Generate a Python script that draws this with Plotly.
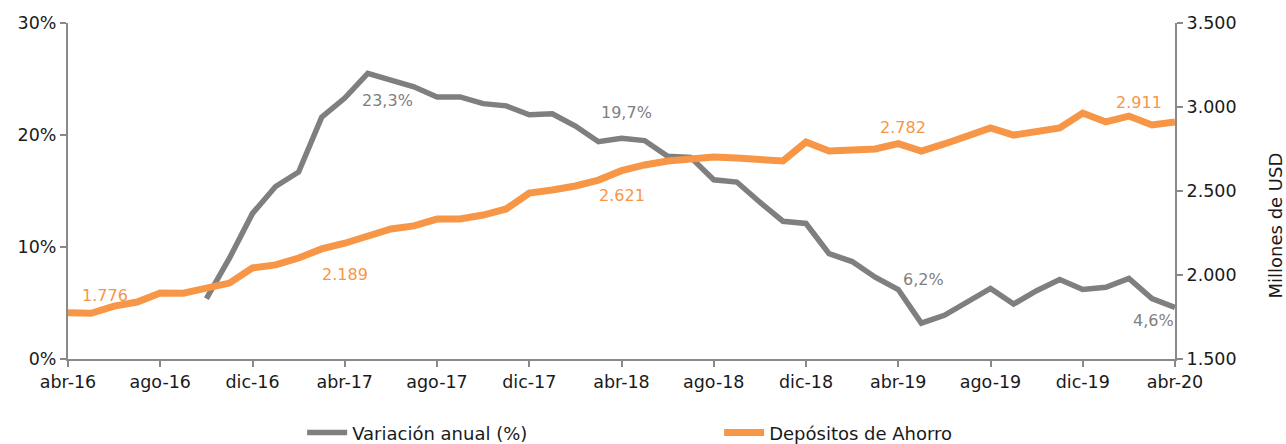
import plotly.graph_objects as go

months = ["abr-16","may-16","jun-16","jul-16","ago-16","sep-16","oct-16","nov-16","dic-16",
          "ene-17","feb-17","mar-17","abr-17","may-17","jun-17","jul-17","ago-17","sep-17","oct-17","nov-17","dic-17",
          "ene-18","feb-18","mar-18","abr-18","may-18","jun-18","jul-18","ago-18","sep-18","oct-18","nov-18","dic-18",
          "ene-19","feb-19","mar-19","abr-19","may-19","jun-19","jul-19","ago-19","sep-19","oct-19","nov-19","dic-19",
          "ene-20","feb-20","mar-20","abr-20"]

depositos = [1776,1772,1815,1839,1893,1892,1922,1952,2042,
             2060,2101,2155,2189,2232,2274,2292,2333,2333,2357,2393,2488,
             2506,2530,2565,2621,2655,2679,2690,2702,2696,2685,2679,2792,
             2738,2744,2750,2782,2738,2780,2833,2875,2833,2851,2875,2964,
             2911,2946,2893,2911]

variacion = [None,None,None,None,None,None,5.4,9.0,13.0,
             15.4,16.7,21.6,23.3,25.5,24.9,24.3,23.4,23.4,22.8,22.6,21.8,
             21.9,20.8,19.4,19.7,19.5,18.1,18.0,16.0,15.8,14.0,12.3,12.1,
             9.4,8.7,7.3,6.2,3.2,3.9,5.1,6.3,4.9,6.1,7.1,6.2,
             6.4,7.2,5.4,4.6]

tick_months = months[::4]

# labelled points (index, x-shift px, y-shift px; positive y = up)
dep_labels = [(0, 37, 17), (12, 0, -31), (24, 0, -25), (36, 5, 16), (48, -36, 19)]
var_labels = [(12, 43, -2), (24, 5, 26), (36, 25, 10), (48, -22, -13)]

GRAY = "#7f7f7f"
ORANGE = "#f79646"
AXIS = "#898989"
FONT = "DejaVu Sans"

fig = go.Figure()
fig.add_trace(go.Scatter(x=months, y=variacion, name="Variación anual (%)", mode="lines",
                         line=dict(color=GRAY, width=5.5), yaxis="y", connectgaps=False))
fig.add_trace(go.Scatter(x=months, y=depositos, name="Depósitos de Ahorro", mode="lines",
                         line=dict(color=ORANGE, width=7), yaxis="y2"))

annotations = []
for i, dx, dy in dep_labels:
    annotations.append(dict(x=months[i], y=depositos[i], xref="x", yref="y2",
                            text=f"{depositos[i]:,}".replace(",", "."), showarrow=False,
                            xshift=dx, yshift=dy, font=dict(color=ORANGE, size=16, family=FONT)))
for i, dx, dy in var_labels:
    annotations.append(dict(x=months[i], y=variacion[i], xref="x", yref="y",
                            text=f"{variacion[i]:.1f}".replace(".", ",") + "%", showarrow=False,
                            xshift=dx, yshift=dy, font=dict(color=GRAY, size=16, family=FONT)))

# right axis title
annotations.append(dict(x=1.0, y=0.5, xref="paper", yref="paper", xshift=112, yshift=-35,
                        text="Millones de USD", textangle=-90, showarrow=False,
                        font=dict(size=18, family=FONT, color="#1a1a1a")))

fig.update_layout(
    width=1286, height=444,
    margin=dict(l=68, r=111, t=23, b=85),
    paper_bgcolor="white", plot_bgcolor="white",
    separators=",.",
    font=dict(family=FONT, size=17.5, color="#1a1a1a"),
    showlegend=True,
    legend=dict(orientation="h", x=0.2115, xanchor="left",
                yref="container", y=0.025, yanchor="middle",
                entrywidth=362, entrywidthmode="pixels", font=dict(size=18),
                itemwidth=40),
    xaxis=dict(type="category", range=[0, len(months) - 1], tickmode="array",
               tickvals=tick_months, ticktext=tick_months, automargin=False,
               showline=True, linecolor=AXIS, linewidth=2, ticks="outside",
               ticklen=6, tickwidth=2, tickcolor=AXIS, showgrid=False, zeroline=False),
    yaxis=dict(range=[0, 30], dtick=10, ticksuffix="%", showline=True, linecolor=AXIS,
               linewidth=2, ticks="outside", ticklen=6, tickwidth=2, tickcolor=AXIS,
               showgrid=False, zeroline=False, automargin=False),
    yaxis2=dict(range=[1500, 3500], dtick=500, overlaying="y", side="right",
                tickformat=",d", showline=True, linecolor=AXIS, linewidth=2,
                ticks="outside", ticklen=6, tickwidth=2, tickcolor=AXIS,
                showgrid=False, zeroline=False, automargin=False),
    annotations=annotations,
)

fig.write_html("out.html", config={"displayModeBar": False},
               post_script="document.body.style.margin='0';")
